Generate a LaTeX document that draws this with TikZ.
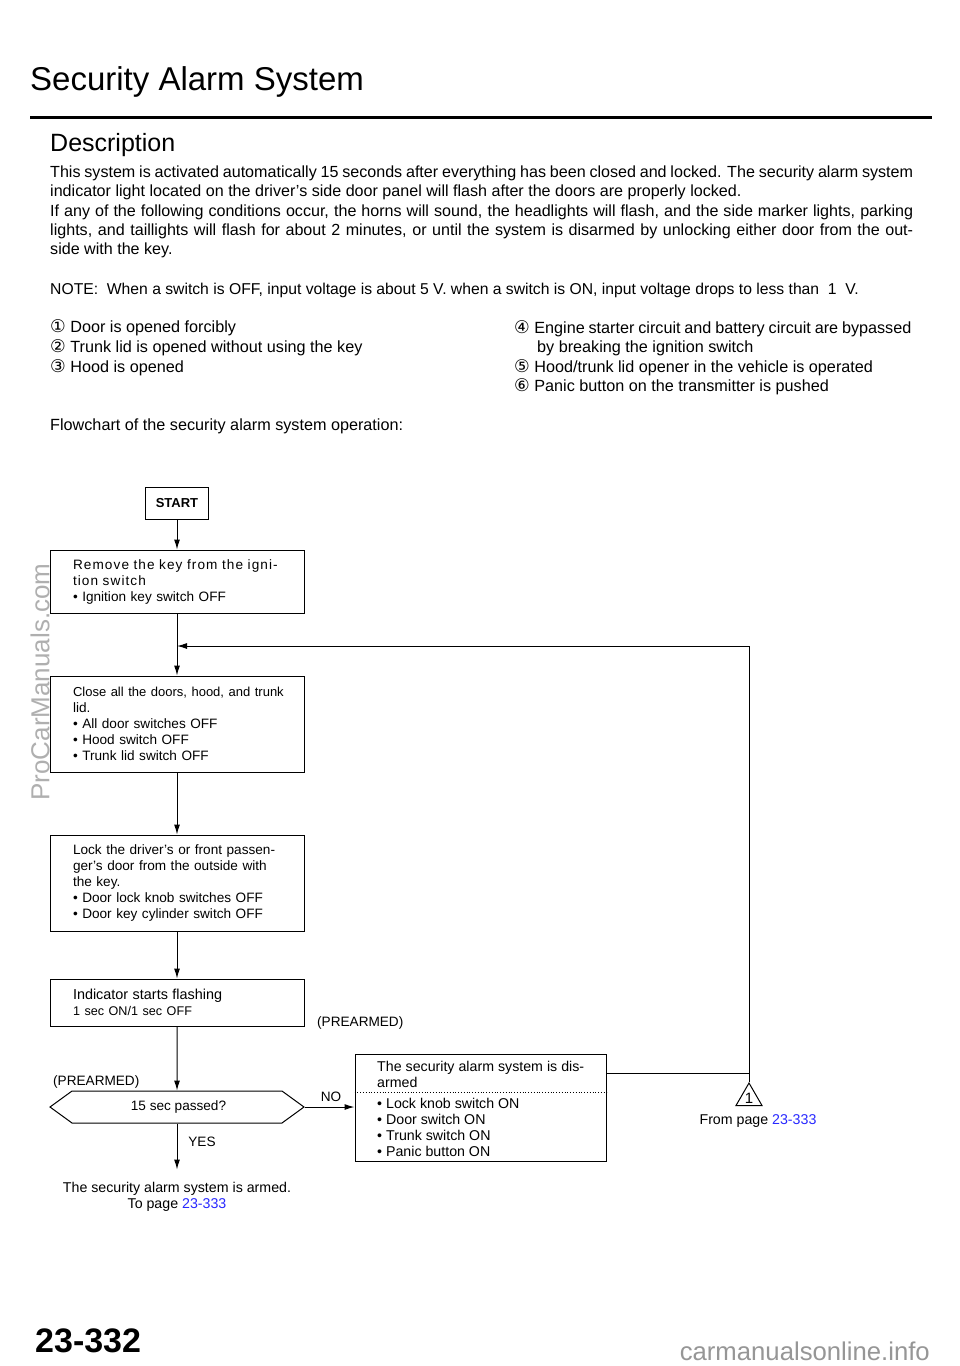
\documentclass[tikz,border=0pt]{standalone}
\usepackage{fontspec}
\setmainfont{Liberation Sans}
\newfontfamily\symfont{DejaVu Sans}
\usetikzlibrary{positioning,arrows.meta,shapes.symbols,shapes.geometric}
\definecolor{linkblue}{RGB}{40,40,255}
\definecolor{markgray}{RGB}{150,150,150}
\definecolor{wmgray}{RGB}{175,175,175}
\newcommand{\widetrack}{\addfontfeature{LetterSpace=8}}

\begin{document}
\begin{tikzpicture}[x=1pt, y=-1pt,
		txt/.style={inner sep=0pt, anchor=base west},
		body/.style={txt, font=\fontsize{16.2}{19}\selectfont},
		small/.style={font=\fontsize{13.6}{16}\selectfont},
		mid/.style={font=\fontsize{14.2}{16}\selectfont},
		flowbox/.style={draw, rectangle, line width=1pt, small, align=left, text width=208pt, inner xsep=23pt},
		arrow/.style={-{Latex[length=10pt,width=6pt]}, line width=1pt},
		]
		\useasboundingbox[fill=white] (0,0) rectangle (960,1366);
		
		\node[txt, font=\fontsize{33}{40}\selectfont] (title) at (30,90) {Security Alarm System};
		\draw[line width=3pt] (30,117) -- (932,117);
		\node[txt, font=\fontsize{25}{30}\selectfont] (desc) at (50,151.5) {Description};
		
		\node[body, font=\fontsize{16.1}{19}\selectfont] (p1) at (50,177) {\makebox[863pt][s]{This system is activated automatically 15 seconds after everything has been closed and locked. The security alarm system}};
		\node[body, font=\fontsize{16.1}{19}\selectfont] (p2) at (50,196) {indicator light located on the driver's side door panel will flash after the doors are properly locked.};
		\node[body, font=\fontsize{16.1}{19}\selectfont] (p3) at (50,216) {\makebox[863pt][s]{If any of the following conditions occur, the horns will sound, the headlights will flash, and the side marker lights, parking}};
		\node[body, font=\fontsize{16.1}{19}\selectfont] (p4) at (50,235) {\makebox[863pt][s]{lights, and taillights will flash for about 2 minutes, or until the system is disarmed by unlocking either door from the out-}};
		\node[body, font=\fontsize{16.1}{19}\selectfont] (p5) at (50,254) {side with the key.};
		\node[body, font=\fontsize{15.7}{19}\selectfont] (note) at (50,294) {NOTE:\ \ When a switch is OFF, input voltage is about 5 V. when a switch is ON, input voltage drops to less than\ \ 1\ \ V.};
		
		\node[body] (c1) at (50,332) {{\symfont\fontsize{17.5}{19}\selectfont ①} Door is opened forcibly};
		\node[body] (c2) at (50,352) {{\symfont\fontsize{17.5}{19}\selectfont ②} Trunk lid is opened without using the key};
		\node[body] (c3) at (50,372) {{\symfont\fontsize{17.5}{19}\selectfont ③} Hood is opened};
		\node[body] (c4) at (514,333) {{\symfont\fontsize{17.5}{19}\selectfont ④} \makebox[377pt][s]{Engine starter circuit and battery circuit are bypassed}};
		\node[body] (c4b) at (537,352) {by breaking the ignition switch};
		\node[body] (c5) at (514,372) {{\symfont\fontsize{17.5}{19}\selectfont ⑤} Hood/trunk lid opener in the vehicle is operated};
		\node[body] (c6) at (514,391) {{\symfont\fontsize{17.5}{19}\selectfont ⑥} Panic button on the transmitter is pushed};
		\node[body] (fc) at (50,430) {Flowchart of the security alarm system operation:};
		
		\node[draw, line width=1pt, minimum width=63pt, minimum height=32pt, font=\fontsize{13}{16}\bfseries] (start) at (177,503) {START};
		\node[flowbox, minimum height=63pt, below=30pt of start] (remove) {\mbox{\widetrack Remove the key from the igni-}\\\mbox{\widetrack tion switch}\\• Ignition key switch OFF};
		\node[flowbox, minimum height=96pt, below=62pt of remove] (close) {\mbox{\fontsize{13}{16}\selectfont Close all the doors, hood, and trunk}\\lid.\\• All door switches OFF\\• Hood switch OFF\\• Trunk lid switch OFF};
		\node[flowbox, minimum height=96pt, below=62pt of close] (lock) {\makebox[210pt][s]{Lock the driver's or front passen-}\\\makebox[210pt][s]{ger's door from the outside with}\\the key.\\• Door lock knob switches OFF\\• Door key cylinder switch OFF};
		\node[flowbox, minimum height=47pt, below=47pt of lock] (flash) {{\fontsize{14.4}{16}\selectfont Indicator starts flashing}\\{\fontsize{12.6}{16}\selectfont 1 sec ON/1 sec OFF}};
		\node[draw, line width=1pt, signal, signal to=east and west, signal pointer angle=72, minimum width=254pt, minimum height=32pt, inner ysep=0pt, small, below=64pt of flash] (wait) {\hspace*{3pt}15 sec passed?};
		\node[mid, align=center, inner xsep=0pt, inner ysep=12pt, below=46pt of wait] (armed) {The security alarm system is armed.\\To page {\color{linkblue}23-333}};
		
		\node[draw, line width=1pt, minimum width=251pt, minimum height=107pt] (disarm) at (480.5,1107.5) {};
		\node[mid, align=left, inner sep=0pt, anchor=north west] (distop) at (377,1061) {\makebox[207pt][s]{The security alarm system is dis-}\\armed};
		\node[mid, align=left, inner sep=0pt, anchor=north west] (dislist) at (377,1098) {• Lock knob switch ON\\• Door switch ON\\• Trunk switch ON\\• Panic button ON};
		\draw[dotted, line width=0.8pt] ([yshift=-39pt]disarm.north west) -- ([yshift=-39pt]disarm.north east);
		
		\node[small, anchor=west, inner sep=0pt] (pre1) at (317,1023) {(PREARMED)};
		\node[small, anchor=west, inner sep=0pt] (pre2) at (53,1082) {(PREARMED)};
		\node[small, inner sep=0pt] (no) at (331,1097) {NO};
		\node[small, inner sep=0pt] (yes) at (202,1142) {YES};
		
		\node[draw, line width=1pt, regular polygon, regular polygon sides=3, minimum size=30pt, inner sep=0pt, font=\fontsize{15}{16}\selectfont] (from) at (749,1098) {1};
		\node[mid, inner sep=0pt] (fromtxt) at (758,1121) {From page {\color{linkblue}23-333}};
		\coordinate (bend) at (749,1073);
		\coordinate (joint) at (177,646);
		
		\draw[arrow] (start) -- (remove);
		\draw[arrow] (remove) -- (close);
		\draw[arrow] (close) -- (lock);
		\draw[arrow] (lock) -- (flash);
		\draw[arrow] (flash) -- (wait);
		\draw[arrow] (wait.south) -- (armed.north);
		\draw[arrow] (wait.east) -- (wait.east -| disarm.west);
		\draw[arrow] (bend -| disarm.east) -- (bend) |- (joint);
		\draw[line width=1pt] (bend) -- (from.corner 1);
		
		\node[txt, font=\fontsize{34}{40}\bfseries] (page) at (35,1352.5) {23-332};
		\node[txt, anchor=base east, text=markgray, font=\fontsize{25.7}{30}\selectfont] (site) at (930,1360.5) {carmanualsonline.info};
		\node[anchor=center, inner sep=0pt, rotate=90, text=wmgray, font=\fontsize{26}{30}\selectfont] (wm) at (40,682) {ProCarManuals.com};
	\end{tikzpicture}
\end{document}
